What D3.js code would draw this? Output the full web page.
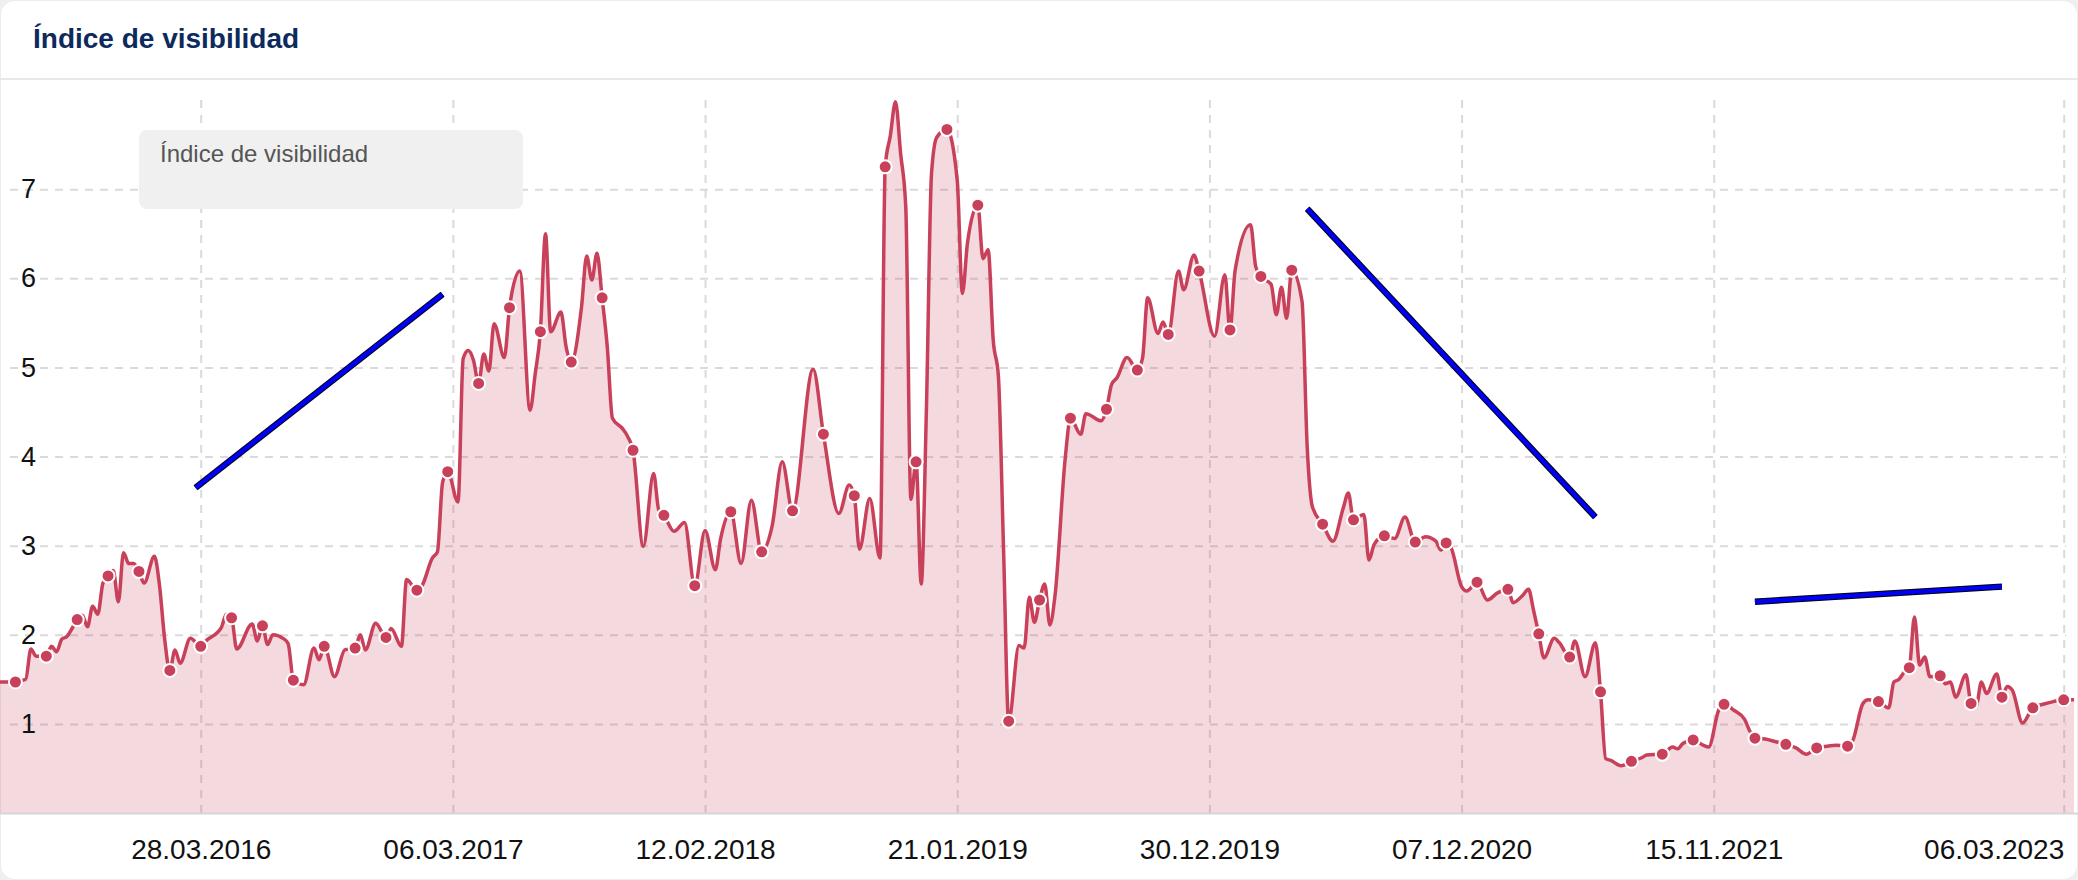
<!DOCTYPE html>
<html>
<head>
<meta charset="utf-8">
<script src="https://cdn.jsdelivr.net/npm/d3@7"></script>
<style>
  body { margin: 0; background: #efefef; }
  svg { display: block; font-family: "Liberation Sans", Arial, sans-serif; }
</style>
</head>
<body>
<svg id="chart"></svg>
<script>
// ---- data ----
const chartTitle = "Índice de visibilidad";
const seriesName = "Índice de visibilidad";

// weeks are counted from this Monday
const baseDate = "28.03.2016";
const tickLabels = ["28.03.2016", "06.03.2017", "12.02.2018", "21.01.2019",
    "30.12.2019", "07.12.2020", "15.11.2021", "06.03.2023"];
const yTicks = [1, 2, 3, 4, 5, 6, 7];

const weekOffsets = [
    -39, -36, -34, -33, -32, -30, -29, -28, -27, -26, -25, -24, -23, -22, -21, -20, -19, -18,
    -17, -16, -15, -14, -13, -12, -11, -9, -8, -7, -6, -5, -4, -2, 0, 1, 4, 5, 6, 7,
    10, 11, 12, 13, 14, 16, 17, 18, 20, 22, 23, 24, 26, 28, 30, 31, 32, 34, 36, 37,
    39, 40, 42, 43, 45, 46, 47, 48, 50, 51, 52, 53, 54, 55, 56, 57, 59, 60, 62, 64,
    65, 66, 67, 68, 70, 71, 72, 74, 75, 76, 77, 78, 79, 80, 82, 83, 84, 86, 88, 89,
    90, 92, 94, 96, 98, 100, 101, 103, 105, 107, 109, 111, 113, 115, 119, 121, 124, 126,
    127, 128, 130, 132, 133, 134, 135, 136, 137, 138, 139, 140, 141, 142, 143, 145, 147, 148,
    149, 151, 152, 153, 154, 155, 156, 157, 159, 160, 161, 162, 163, 164, 165, 166, 168, 169,
    171, 172, 175, 176, 177, 178, 180, 182, 183, 184, 186, 187, 188, 190, 191, 193, 194, 197,
    199, 200, 201, 204, 205, 206, 208, 209, 210, 211, 212, 214, 215, 216, 218, 220, 222, 223,
    224, 226, 227, 228, 230, 232, 234, 236, 238, 240, 241, 242, 243, 245, 246, 248, 250, 252,
    254, 255, 257, 258, 259, 260, 261, 263, 264, 266, 267, 269, 271, 272, 273, 274, 276, 278,
    280, 281, 284, 286, 287, 288, 290, 292, 293, 295, 296, 298, 300, 301, 302, 304, 306, 308,
    310, 312, 314, 316, 318, 320, 321, 323, 324, 326, 328, 329, 330, 331, 332, 333, 334, 335,
    336, 338, 339, 340, 341, 343, 344, 345, 346, 347, 349, 350, 351, 352, 354, 356, 358, 360,
    362, 364
];
const visibility = [
    1.47, 1.47, 1.50, 1.84, 1.76, 1.76, 1.87, 1.81, 1.95, 1.98, 2.07, 2.17, 2.22, 2.09, 2.32, 2.23, 2.58, 2.66,
    2.72, 2.37, 2.92, 2.80, 2.80, 2.71, 2.58, 2.88, 2.55, 1.95, 1.60, 1.83, 1.68, 1.96, 1.87, 1.93, 2.08, 2.23, 2.19, 1.84,
    2.12, 1.93, 2.10, 1.89, 2.00, 1.96, 1.90, 1.49, 1.44, 1.85, 1.72, 1.87, 1.53, 1.83, 1.85, 2.00, 1.83, 2.13, 1.97, 2.07,
    1.87, 2.62, 2.50, 2.55, 2.86, 2.93, 3.71, 3.83, 3.49, 5.10, 5.19, 5.08, 4.82, 5.15, 4.96, 5.49, 5.11, 5.67, 6.08, 4.52,
    4.93, 5.40, 6.50, 5.40, 5.62, 5.23, 5.06, 5.68, 6.25, 5.98, 6.28, 5.78, 5.23, 4.43, 4.31, 4.22, 4.07, 2.99, 3.81, 3.40,
    3.34, 3.16, 3.26, 2.55, 3.17, 2.73, 3.07, 3.38, 2.80, 3.51, 2.93, 3.21, 3.94, 3.39, 4.98, 4.25, 3.36, 3.68,
    3.56, 2.96, 3.53, 2.86, 7.25, 7.60, 7.98, 7.40, 6.80, 3.52, 3.94, 2.57, 4.50, 7.17, 7.58, 7.67, 7.10, 5.83,
    6.40, 6.82, 6.22, 6.32, 5.30, 4.90, 2.96, 1.03, 1.88, 1.85, 2.42, 2.14, 2.39, 2.57, 2.11, 2.44, 3.99, 4.43,
    4.25, 4.48, 4.40, 4.53, 4.81, 4.88, 5.11, 4.97, 5.10, 5.78, 5.38, 5.51, 5.37, 6.08, 5.87, 6.26, 6.08, 5.35,
    6.04, 5.42, 6.09, 6.60, 6.13, 6.02, 5.93, 5.59, 5.90, 5.55, 6.09, 5.74, 4.11, 3.44, 3.24, 3.05, 3.42, 3.59,
    3.29, 3.35, 2.84, 3.01, 3.11, 3.08, 3.32, 3.04, 3.10, 3.05, 2.95, 3.03, 2.97, 2.54, 2.49, 2.59, 2.39, 2.47,
    2.51, 2.36, 2.45, 2.51, 2.27, 2.01, 1.74, 1.96, 1.91, 1.75, 1.93, 1.53, 1.91, 1.36, 0.61, 0.59, 0.53, 0.58,
    0.62, 0.65, 0.66, 0.74, 0.72, 0.78, 0.82, 0.76, 0.74, 1.16, 1.22, 1.15, 1.05, 0.92, 0.84, 0.83, 0.80, 0.77,
    0.73, 0.66, 0.73, 0.75, 0.76, 0.75, 0.81, 1.23, 1.27, 1.25, 1.18, 1.47, 1.50, 1.58, 1.63, 2.20, 1.66, 1.75,
    1.53, 1.54, 1.45, 1.47, 1.30, 1.55, 1.23, 1.20, 1.47, 1.34, 1.56, 1.30, 1.42, 1.38, 1.01, 1.18, 1.22, 1.25,
    1.27, 1.27
];

// weeks that carry a dot
const markerWeeks = [
    -36, -30, -24, -18, -12, -6, 0, 6, 12, 18, 24, 30, 36, 42, 48, 54, 60, 66, 72, 78, 84, 90, 96,
    103, 109, 115, 121, 127, 133, 139, 145, 151, 157, 163, 169, 176, 182, 188, 194, 200, 206, 212,
    218, 224, 230, 236, 242, 248, 254, 260, 266, 272, 278, 284, 290, 296, 302, 308, 314, 320, 326,
    332, 338, 344, 350, 356, 362
];

// hand drawn trend strokes (start week/end week, start value/end value)
const trendWeeks = [[-1, 47], [215, 271], [302, 350]];
const trendValues = [[3.65, 5.82], [6.78, 3.32], [2.37, 2.54]];

// ---- setup ----
const width = 2078, height = 880;
const plotTop = 100, plotBottom = 813, plotRight = 2074;

const parseDate = d3.utcParse("%d.%m.%Y");
const fmtDate = d3.utcFormat("%d.%m.%Y");
const base = parseDate(baseDate);
const weekToDate = w => d3.utcDay.offset(base, w * 7);

const data = weekOffsets.map((w, i) => ({ week: w, date: weekToDate(w), value: visibility[i] }));
const markerSet = new Set(markerWeeks);
const markerData = data.filter(d => markerSet.has(d.week));
const ticks = tickLabels.map(parseDate);

const x = d3.scaleUtc()
    .domain(d3.extent(data, d => d.date))
    .range([0, plotRight]);

const y = d3.scaleLinear()
    .domain([0, 8])
    .range([plotBottom, plotTop]);

const svg = d3.select("#chart")
    .attr("width", width)
    .attr("height", height);

// card
svg.append("rect")
    .attr("x", 0.5).attr("y", 0.5)
    .attr("width", width - 1).attr("height", height - 1)
    .attr("rx", 14)
    .attr("fill", "#fff")
    .attr("stroke", "#ececec");

svg.append("text")
    .attr("x", 33)
    .attr("y", 48)
    .attr("font-size", 28)
    .attr("font-weight", "bold")
    .attr("fill", "#0c2b5c")
    .text(chartTitle);

svg.append("line")
    .attr("x1", 0).attr("x2", width)
    .attr("y1", 79).attr("y2", 79)
    .attr("stroke", "#e8e8e8")
    .attr("stroke-width", 2);

// grid
const gridY = svg.append("g")
    .attr("transform", `translate(10,0)`)
    .call(d3.axisLeft(y).tickValues(yTicks).tickSize(-(2066 - 10)).tickFormat(""));
gridY.select(".domain").remove();

const gridX = svg.append("g")
    .attr("transform", `translate(0,${plotBottom})`)
    .call(d3.axisBottom(x).tickValues(ticks).tickSize(-(plotBottom - plotTop)).tickFormat(""));
gridX.select(".domain").remove();

svg.selectAll(".tick line")
    .attr("stroke", "#dadada")
    .attr("stroke-width", 2)
    .attr("stroke-dasharray", "8,7");

// series
svg.append("clipPath").attr("id", "plotClip")
    .append("rect")
    .attr("x", 0).attr("y", plotTop - 10)
    .attr("width", plotRight + 2).attr("height", plotBottom - plotTop + 10);

const series = svg.append("g").attr("clip-path", "url(#plotClip)");

const area = d3.area()
    .x(d => x(d.date))
    .y0(y(0))
    .y1(d => y(d.value))
    .curve(d3.curveMonotoneX);

const line = d3.line()
    .x(d => x(d.date))
    .y(d => y(d.value))
    .curve(d3.curveMonotoneX);

series.append("path")
    .datum(data)
    .attr("fill", "#c8405a")
    .attr("fill-opacity", 0.2)
    .attr("d", area);

series.append("path")
    .datum(data)
    .attr("fill", "none")
    .attr("stroke", "#c8405a")
    .attr("stroke-width", 3.5)
    .attr("stroke-linejoin", "round")
    .attr("d", line);

// x axis line
svg.append("line")
    .attr("x1", 0).attr("x2", width)
    .attr("y1", plotBottom + 0.5).attr("y2", plotBottom + 0.5)
    .attr("stroke", "#d6d6d6")
    .attr("stroke-width", 2);

series.append("g")
    .selectAll("circle")
    .data(markerData)
    .join("circle")
    .attr("cx", d => x(d.date))
    .attr("cy", d => y(d.value))
    .attr("r", 6.5)
    .attr("fill", "#c8405a")
    .attr("stroke", "#fff")
    .attr("stroke-width", 2);

// trend strokes
const trends = trendWeeks.map((w, i) => [
    { date: weekToDate(w[0]), value: trendValues[i][0] },
    { date: weekToDate(w[1]), value: trendValues[i][1] }
]);
const trendLine = d3.line().x(d => x(d.date)).y(d => y(d.value));
const trendG = svg.append("g");
trendG.selectAll(".trend-edge")
    .data(trends)
    .join("path")
    .attr("class", "trend-edge")
    .attr("fill", "none")
    .attr("stroke", "#000")
    .attr("stroke-width", 6.5)
    .attr("d", trendLine);
trendG.selectAll(".trend")
    .data(trends)
    .join("path")
    .attr("class", "trend")
    .attr("fill", "none")
    .attr("stroke", "#0000f5")
    .attr("stroke-width", 4.5)
    .attr("d", trendLine);

// axes labels
const xAxis = svg.append("g")
    .attr("transform", `translate(0,${plotBottom})`)
    .call(d3.axisBottom(x).tickValues(ticks).tickFormat(fmtDate).tickSize(0).tickPadding(26));
xAxis.select(".domain").remove();
xAxis.selectAll("text")
    .attr("font-size", 28)
    .attr("font-family", "Liberation Sans, Arial, sans-serif")
    .attr("fill", "#111")
    .attr("text-anchor", (d, i) => i === ticks.length - 1 ? "end" : "middle");

const yAxis = svg.append("g")
    .attr("transform", `translate(36,0)`)
    .call(d3.axisLeft(y).tickValues(yTicks).tickSize(0).tickPadding(0));
yAxis.select(".domain").remove();
yAxis.selectAll("text")
    .attr("font-size", 27)
    .attr("font-family", "Liberation Sans, Arial, sans-serif")
    .attr("fill", "#111");

// legend box
const legend = svg.append("g");
legend.append("rect")
    .attr("x", 139).attr("y", 130)
    .attr("width", 384).attr("height", 79)
    .attr("rx", 8)
    .attr("fill", "#f0f0f0");
legend.append("text")
    .attr("x", 160).attr("y", 162)
    .attr("font-size", 24)
    .attr("fill", "#555")
    .text(seriesName);
</script>
</body>
</html>
